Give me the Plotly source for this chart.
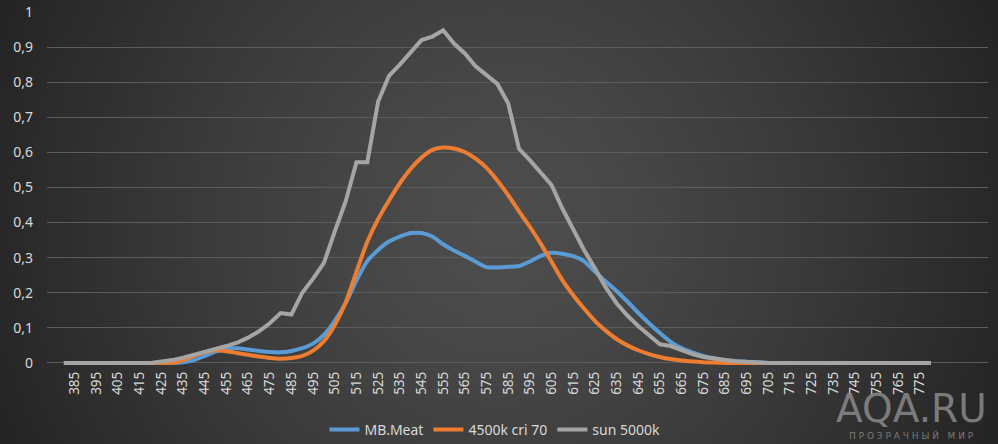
import base64, struct, zlib
import numpy as np
import plotly.graph_objects as go

# ---------------- data ----------------
wavelengths = list(range(380, 785, 5))
tick_wl = list(range(385, 780, 10))
y_ticks = [0, 0.1, 0.2, 0.3, 0.4, 0.5, 0.6, 0.7, 0.8, 0.9, 1]
y_ticktext = ["0", "0,1", "0,2", "0,3", "0,4", "0,5", "0,6", "0,7", "0,8", "0,9", "1"]

series_names = ["MB.Meat", "4500k cri 70", "sun 5000k"]

mb_meat = [0]*11 + [
    0.002, 0.008, 0.02, 0.032, 0.04, 0.042, 0.038, 0.034, 0.031, 0.03,
    0.034, 0.042, 0.055, 0.08, 0.12, 0.17, 0.235, 0.29, 0.322, 0.346,
    0.36, 0.37, 0.37, 0.36, 0.338, 0.32, 0.305, 0.288, 0.273, 0.272,
    0.274, 0.276, 0.289, 0.305, 0.314, 0.311, 0.304, 0.29, 0.26, 0.232,
    0.205, 0.175, 0.143, 0.113, 0.085, 0.06, 0.042, 0.03, 0.02, 0.013,
    0.008, 0.005, 0.003, 0.002] + [0]*16

led_4500k = [0]*11 + [
    0.008, 0.02, 0.03, 0.036, 0.033, 0.028, 0.023, 0.018, 0.014, 0.012,
    0.014, 0.02, 0.035, 0.062, 0.108, 0.172, 0.26, 0.345, 0.41, 0.463,
    0.512, 0.553, 0.585, 0.607, 0.614, 0.611, 0.601, 0.582, 0.556, 0.52,
    0.478, 0.432, 0.388, 0.34, 0.288, 0.236, 0.193, 0.155, 0.12, 0.092,
    0.068, 0.05, 0.036, 0.025, 0.017, 0.011, 0.007, 0.004, 0.002, 0.001,
    0, 0, 0, 0] + [0]*16

sun_5000k = [0]*9 + [
    0.004, 0.008, 0.015, 0.024, 0.032, 0.04, 0.048, 0.058, 0.072, 0.09,
    0.113, 0.142, 0.138, 0.2, 0.24, 0.285, 0.375, 0.46, 0.572, 0.572,
    0.745, 0.818, 0.85, 0.885, 0.92, 0.93, 0.948, 0.91, 0.882, 0.845,
    0.82, 0.795, 0.74, 0.61, 0.578, 0.543, 0.507, 0.44, 0.38, 0.322,
    0.27, 0.215, 0.17, 0.135, 0.105, 0.08, 0.053, 0.048, 0.035, 0.025,
    0.017, 0.012, 0.008, 0.005, 0.003, 0.002] + [0]*16

colors = ["#5B9BD5", "#ED7D31", "#A5A5A5"]
shapes = ["spline", "spline", "linear"]

# ---------------- background gradient image ----------------
W, H = 998, 444
gw, gh = 250, 111
yy, xx = np.mgrid[0:gh, 0:gw]
px = (xx + 0.5) * W / gw
py = (yy + 0.5) * H / gh
d = np.sqrt((px - W / 2) ** 2 + (py - H / 2) ** 2) / np.sqrt((W / 2) ** 2 + (H / 2) ** 2)
c_center, c_edge = 78.0, 36.0
val = np.clip(c_center - (c_center - c_edge) * d ** 1.3, 0, 255).astype(np.uint8)
arr = np.stack([val, val, val], axis=-1)

def make_png(a):
    h, w, _ = a.shape
    raw = b"".join(b"\x00" + a[i].tobytes() for i in range(h))
    def chunk(tag, data):
        return struct.pack(">I", len(data)) + tag + data + struct.pack(">I", zlib.crc32(tag + data) & 0xFFFFFFFF)
    return (b"\x89PNG\r\n\x1a\n" + chunk(b"IHDR", struct.pack(">IIBBBBB", w, h, 8, 2, 0, 0, 0))
            + chunk(b"IDAT", zlib.compress(raw, 9)) + chunk(b"IEND", b""))

bg_uri = "data:image/png;base64," + base64.b64encode(make_png(arr)).decode()

# ---------------- figure ----------------
ML, MR, MT, MB = 47, 10, 12, 79
PW, PH = W - ML - MR, H - MT - MB

def py_paper(pix_y):
    return (H - MB - pix_y) / PH

def px_paper(pix_x):
    return (pix_x - ML) / PW

fig = go.Figure()
for name, vals, col, shp in zip(series_names, [mb_meat, led_4500k, sun_5000k], colors, shapes):
    fig.add_trace(go.Scatter(x=wavelengths, y=vals, name=name, mode="lines",
                             line=dict(color=col, width=4, shape=shp, smoothing=0.6)))

font_family = "Noto Sans, Open Sans, DejaVu Sans, sans-serif"
txt_col = "#d9d9d9"

fig.update_layout(
    width=W, height=H,
    margin=dict(l=ML, r=MR, t=MT, b=MB, pad=0, autoexpand=False),
    paper_bgcolor="#333333",
    plot_bgcolor="rgba(0,0,0,0)",
    font=dict(family=font_family, color=txt_col, size=13),
    showlegend=True,
    legend=dict(orientation="h", x=px_paper(495), xanchor="center",
                y=py_paper(430), yanchor="middle",
                bgcolor="rgba(0,0,0,0)", font=dict(size=14, color=txt_col),
                itemwidth=30),
    images=[dict(source=bg_uri, xref="paper", yref="paper",
                 x=-ML / PW, y=1 + MT / PH, sizex=W / PW, sizey=H / PH,
                 xanchor="left", yanchor="top", sizing="stretch", layer="below")],
    xaxis=dict(range=[372.2, 806.4], tickmode="array", tickvals=tick_wl,
               ticktext=[str(v) for v in tick_wl], tickangle=-90, automargin=False,
               showgrid=False, zeroline=False, showline=False, ticks="",
               tickfont=dict(size=13.5, color=txt_col), ticklabelstandoff=3),
    yaxis=dict(range=[-0.006, 1.0], tickmode="array", tickvals=y_ticks, ticktext=y_ticktext,
               automargin=False,
               showgrid=True, gridcolor="#5c5c5c", gridwidth=1, zeroline=False,
               showline=False, ticks="", tickfont=dict(size=14, color=txt_col),
               ticklabelstandoff=13),
    annotations=[
        dict(text="AQA.RU", xref="paper", yref="paper", x=px_paper(911), y=py_paper(408),
             xanchor="center", yanchor="middle", showarrow=False,
             font=dict(family="DejaVu Sans, sans-serif", size=39, color="rgba(150,150,150,0.75)")),
        dict(text="П Р О З Р А Ч Н Ы Й   М И Р", xref="paper", yref="paper",
             x=px_paper(911), y=py_paper(436), xanchor="center", yanchor="middle",
             showarrow=False,
             font=dict(family="DejaVu Sans, sans-serif", size=9, color="rgba(150,150,150,0.75)")),
    ],
)

fig.write_html("out.html", config={"displayModeBar": False},
               post_script="document.body.style.margin='0';document.body.style.overflow='hidden';")
